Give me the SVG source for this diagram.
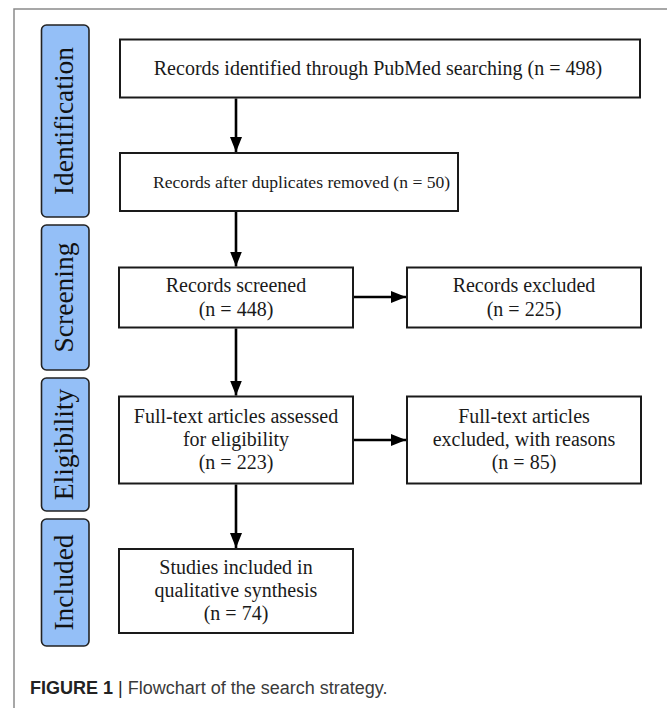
<svg xmlns="http://www.w3.org/2000/svg" width="667" height="708" viewBox="0 0 667 708">
<defs>
<marker id="ah" markerUnits="userSpaceOnUse" markerWidth="16" markerHeight="12" viewBox="0 0 16 12" refX="15" refY="6" orient="auto">
<path d="M0,0 L15,6 L0,12 Z" fill="#000"/>
</marker>
<style>
.frame{fill:none;stroke:#8a8a8a;stroke-width:1.5}
.lab{fill:#94bff7;stroke:#222;stroke-width:1.6}
.labt{font-family:"Liberation Serif","Times New Roman",serif;font-size:27.5px;fill:#111;text-anchor:middle}
.box{fill:#fff;stroke:#1a1a1a;stroke-width:2}
.bt{font-family:"Liberation Serif","Times New Roman",serif;font-size:20px;fill:#1a1a1a;text-anchor:middle}
.conn{stroke:#000;stroke-width:2.6;fill:none;marker-end:url(#ah)}
.cap{font-family:"Liberation Sans",Arial,sans-serif;font-size:18px;fill:#3a3a3a}
</style>
</defs>
<rect width="667" height="708" fill="#fff"/>
<path class="frame" d="M14,708 L14,9 L667,9"/>

<g id="label-identification">
<rect class="lab" x="41.5" y="25" width="47.5" height="192" rx="5"/>
<text class="labt" transform="translate(73,121) rotate(-90)">Identification</text>
</g>
<g id="label-screening">
<rect class="lab" x="41.5" y="225" width="47.5" height="145" rx="5"/>
<text class="labt" transform="translate(73,297.5) rotate(-90)">Screening</text>
</g>
<g id="label-eligibility">
<rect class="lab" x="41.5" y="378" width="47.5" height="133" rx="5"/>
<text class="labt" transform="translate(73,444.5) rotate(-90)">Eligibility</text>
</g>
<g id="label-included">
<rect class="lab" x="41.5" y="519" width="47.5" height="127" rx="5"/>
<text class="labt" transform="translate(73,582.5) rotate(-90)">Included</text>
</g>

<g id="box-identified">
<rect class="box" x="120" y="39.5" width="520" height="58"/>
<text class="bt" x="378" y="75">Records identified through PubMed searching (n = 498)</text>
</g>
<g id="box-duplicates">
<rect class="box" x="120" y="153" width="338" height="58"/>
<text class="bt" x="153" y="188" style="text-anchor:start;font-size:17.6px">Records after duplicates removed (n = 50)</text>
</g>
<g id="box-screened">
<rect class="box" x="119" y="267.5" width="234" height="60"/>
<text class="bt" x="236" y="292">Records screened</text>
<text class="bt" x="236" y="316">(n = 448)</text>
</g>
<g id="box-excluded">
<rect class="box" x="407" y="267.5" width="234" height="60"/>
<text class="bt" x="524" y="292">Records excluded</text>
<text class="bt" x="524" y="316">(n = 225)</text>
</g>
<g id="box-fulltext">
<rect class="box" x="119" y="396.5" width="234" height="87"/>
<text class="bt" x="236" y="423">Full-text articles assessed</text>
<text class="bt" x="236" y="446">for eligibility</text>
<text class="bt" x="236" y="469">(n = 223)</text>
</g>
<g id="box-fulltext-excluded">
<rect class="box" x="407" y="396.5" width="234" height="87"/>
<text class="bt" x="524" y="423">Full-text articles</text>
<text class="bt" x="524" y="446">excluded, with reasons</text>
<text class="bt" x="524" y="469">(n = 85)</text>
</g>
<g id="box-included">
<rect class="box" x="119" y="549" width="234" height="84"/>
<text class="bt" x="236" y="574">Studies included in</text>
<text class="bt" x="236" y="597">qualitative synthesis</text>
<text class="bt" x="236" y="620">(n = 74)</text>
</g>

<g id="connectors">
<line class="conn" x1="236" y1="98.5" x2="236" y2="152"/>
<line class="conn" x1="236" y1="212" x2="236" y2="266.5"/>
<line class="conn" x1="236" y1="328.5" x2="236" y2="395.5"/>
<line class="conn" x1="236" y1="484.5" x2="236" y2="548"/>
<line class="conn" x1="354" y1="297" x2="406" y2="297"/>
<line class="conn" x1="354" y1="440" x2="406" y2="440"/>
</g>

<text class="cap" x="30" y="694"><tspan font-weight="bold" fill="#222">FIGURE 1</tspan><tspan fill="#222"> | </tspan>Flowchart of the search strategy.</text>
</svg>
